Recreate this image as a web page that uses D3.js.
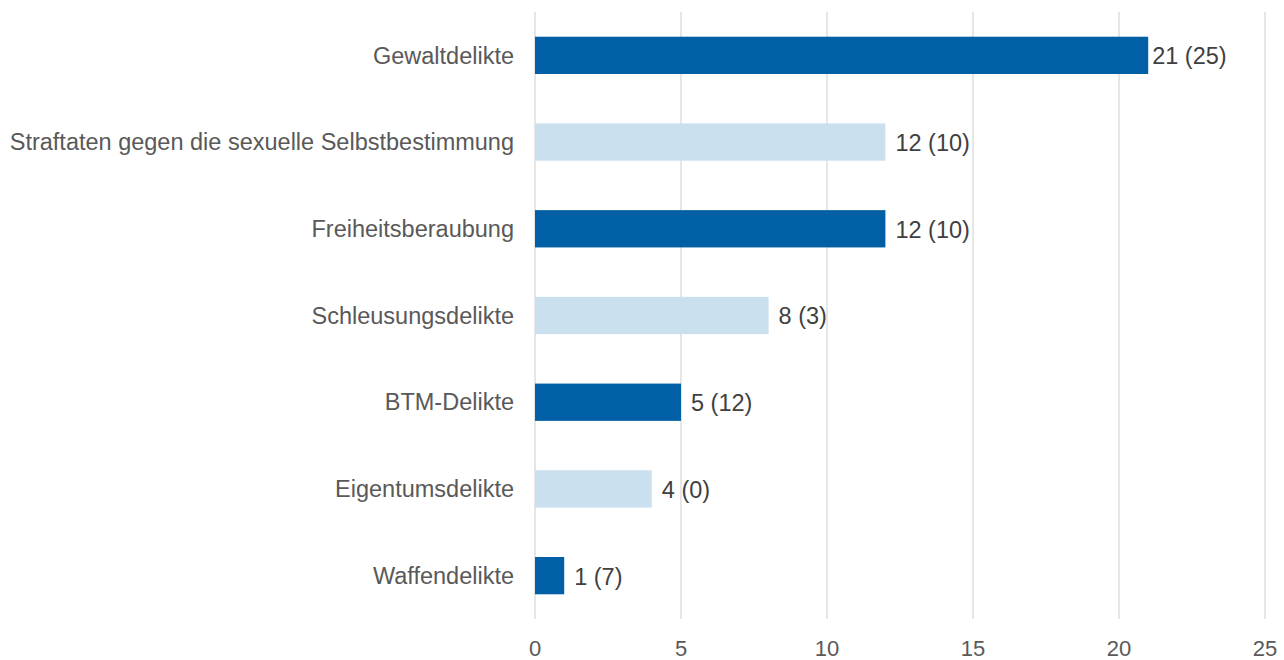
<!DOCTYPE html>
<html>
<head>
<meta charset="utf-8">
<script src="https://cdn.jsdelivr.net/npm/d3@7"></script>
<style>
  body { margin: 0; background: #fff; }
  text { font-family: "Liberation Sans", Arial, sans-serif; }
</style>
</head>
<body>
<svg id="chart" width="1284" height="660"></svg>
<script>
var categories = ["Gewaltdelikte", "Straftaten gegen die sexuelle Selbstbestimmung", "Freiheitsberaubung",
  "Schleusungsdelikte", "BTM-Delikte", "Eigentumsdelikte", "Waffendelikte"];
var values = [21, 12, 12, 8, 5, 4, 1];
var previous = [25, 10, 10, 3, 12, 0, 7];
var ticks = [0, 5, 10, 15, 20, 25];
var colors = ["#005FA5", "#CAE0EE"];

var svg = d3.select("#chart");
var plotLeft = 535, plotRight = 1265, plotTop = 12, plotBottom = 619;

var x = d3.scaleLinear().domain([0, 25]).range([plotLeft, plotRight]);
var y = d3.scaleBand().domain(categories).range([plotTop, plotBottom]).paddingInner(0.57).paddingOuter(0.285);

// gridlines
svg.selectAll("line.grid").data(ticks).enter().append("line")
  .attr("class", "grid")
  .attr("x1", function(d){ return x(d); })
  .attr("x2", function(d){ return x(d); })
  .attr("y1", plotTop).attr("y2", plotBottom)
  .attr("stroke", "#D9D9D9").attr("stroke-width", 1.3);

// x tick labels
svg.selectAll("text.tick").data(ticks).enter().append("text")
  .attr("class", "tick")
  .attr("x", function(d){ return x(d); })
  .attr("y", 656)
  .attr("text-anchor", "middle")
  .attr("font-size", 22)
  .attr("fill", "#595959")
  .text(function(d){ return d; });

// bars
svg.selectAll("rect.bar").data(categories).enter().append("rect")
  .attr("class", "bar")
  .attr("x", x(0))
  .attr("y", function(d){ return y(d); })
  .attr("width", function(d, i){ return x(values[i]) - x(0); })
  .attr("height", y.bandwidth())
  .attr("fill", function(d, i){ return colors[i % 2]; });

// category labels
svg.selectAll("text.cat").data(categories).enter().append("text")
  .attr("class", "cat")
  .attr("x", 514)
  .attr("y", function(d){ return y(d) + y.bandwidth() / 2; })
  .attr("dy", "0.35em")
  .attr("text-anchor", "end")
  .attr("font-size", 23.5)
  .attr("fill", "#595959")
  .text(function(d){ return d; });

// value labels (the longest one sits closer to its bar)
svg.selectAll("text.val").data(categories).enter().append("text")
  .attr("class", "val")
  .attr("x", function(d, i){ return x(values[i]) + (values[i] > 20 ? 4 : 10); })
  .attr("y", function(d){ return y(d) + y.bandwidth() / 2; })
  .attr("dy", "0.38em")
  .attr("font-size", 23.5)
  .attr("fill", "#404040")
  .text(function(d, i){ return values[i] + " (" + previous[i] + ")"; });
</script>
</body>
</html>
